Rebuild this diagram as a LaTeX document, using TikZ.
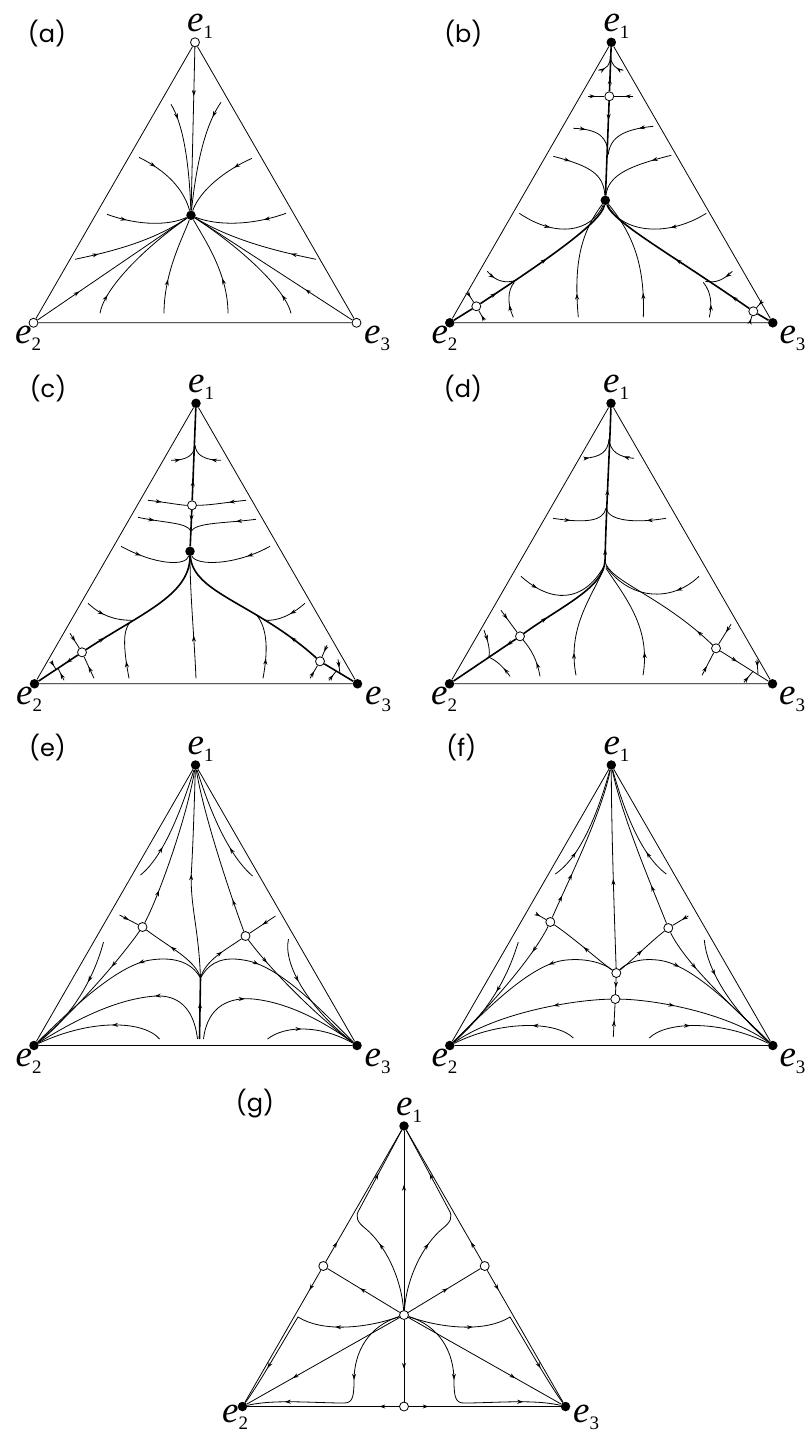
\documentclass[tikz,border=0pt]{standalone}
\usepackage{fontspec}
\usepackage{tikz}
\usetikzlibrary{arrows.meta,decorations.markings}
\newfontfamily\serifface{Liberation Serif}
\newfontfamily\sansface{Poppins}
\newcommand{\elfont}{\serifface\fontsize{37}{37}\selectfont}
\newcommand{\subfont}{\serifface\fontsize{19}{19}\selectfont}
\newcommand{\panelfont}{\sansface\fontsize{24}{24}\selectfont}

\begin{document}
\begin{tikzpicture}[x=1pt,y=-1pt,
    edge/.style={line width=0.8pt},
    orbit/.style={line width=0.8pt},
    heavy/.style={line width=1.6pt},
    fixed/.style={circle,inner sep=0pt,minimum size=9.5pt,fill=black},
    unstable/.style={circle,inner sep=0pt,minimum size=9pt,draw,line width=0.8pt,fill=white},
    arr/.style={postaction={decorate,decoration={markings,mark=at position #1 with {\arrow{Stealth[length=6pt,width=4pt]}}}}},
    elabel/.style={font=\elfont,inner sep=0pt,anchor=base west},
    panel/.style={font=\panelfont,inner sep=0pt}]
    \useasboundingbox (0,0) rectangle (806,1434);

    % (a)
    \begin{scope}[shift={(195,42.3)}]
    \node[unstable] (a1) at (0,0) {};
    \node[unstable] (a2) at (-161.5,280.5) {};
    \node[unstable] (a3) at (161.5,280.5) {};
    \node[fixed] (aS) at (-4,173) {};
    \draw[edge] (a1) -- (a2) -- (a3) -- (a1);
    \draw[orbit,arr=0.3] (a1) -- (aS);
    \draw[orbit,arr=0.28] (a2) -- (aS);
    \draw[orbit,arr=0.3] (a3) -- (aS);
    \draw[orbit,arr=0.15] (-24,62) .. controls (-13,80) and (-6,115) .. (aS);
    \draw[orbit,arr=0.15] (26,60) .. controls (12,80) and (2,115) .. (aS);
    \draw[orbit,arr=0.25] (-56,115) .. controls (-30,128) and (-12,145) .. (aS);
    \draw[orbit,arr=0.25] (57,116) .. controls (30,128) and (5,148) .. (aS);
    \draw[orbit,arr=0.25] (-88,172) .. controls (-55,184) and (-25,183) .. (aS);
    \draw[orbit,arr=0.25] (91,171) .. controls (55,184) and (20,183) .. (aS);
    \draw[orbit,arr=0.2] (-120,217) .. controls (-92,211) and (-45,201) .. (aS);
    \draw[orbit,arr=0.2] (121,217) .. controls (92,211) and (40,200) .. (aS);
    \draw[orbit,arr=0.15] (-95,271) .. controls (-91,246) and (-50,205) .. (aS);
    \draw[orbit,arr=0.15] (96,271) .. controls (90,246) and (45,205) .. (aS);
    \draw[orbit,arr=0.35] (-31,271) .. controls (-31,230) and (-12,195) .. (aS);
    \draw[orbit,arr=0.35] (33,271) .. controls (33,230) and (8,195) .. (aS);
    \node[elabel] (a1l) at (-8,-11) {\textit{e}\raisebox{-7pt}{\subfont 1}};
    \node[elabel] (a2l) at (-180,301.5) {\textit{e}\raisebox{-7pt}{\subfont 2}};
    \node[elabel] (a3l) at (169,301.5) {\textit{e}\raisebox{-7pt}{\subfont 3}};
    \node[panel] (al) at (-148,-9) {(a)};
    \end{scope}

    % (b)
    \begin{scope}[shift={(611.3,42.3)}]
    \node[fixed] (b1) at (0,0) {};
    \node[fixed] (b2) at (-161.5,280.5) {};
    \node[fixed] (b3) at (161.5,280.5) {};
    \node[unstable] (bT) at (-2,54) {};
    \node[fixed] (bS) at (-6,158) {};
    \node[unstable] (bL) at (-135,264) {};
    \node[unstable] (bR) at (142,269) {};
    \draw[edge] (b1) -- (b2) -- (b3) -- (b1);
    \draw[heavy,arr=0.3] (bT) -- (b1);
    \draw[orbit,arr=0.35] (-13,28) .. controls (-4,27) and (-1,22) .. (-1,14);
    \draw[orbit,arr=0.35] (12,28) .. controls (4,27) and (0,22) .. (-1,14);
    \draw[orbit,arr=0.45] (-23,54) -- (bT);
    \draw[orbit,arr=0.45] (22,54) -- (bT);
    \draw[heavy,arr=0.2] (bT) -- (bS);
    \draw[orbit,arr=0.25] (-38,86) .. controls (-12,87) and (-4,95) .. (-3,112);
    \draw[orbit,arr=0.25] (42,84) .. controls (12,87) and (-1,95) .. (-3,112);
    \draw[orbit,arr=0.25] (-58,114) .. controls (-20,124) and (-8,132) .. (bS);
    \draw[orbit,arr=0.25] (60,113) .. controls (20,123) and (-3,132) .. (bS);
    \draw[orbit,arr=0.35] (-92,171) .. controls (-55,196) and (-20,190) .. (bS);
    \draw[orbit,arr=0.35] (95,171) .. controls (55,196) and (10,190) .. (bS);
    \draw[heavy,arr=0.12,arr=0.5] (bL) .. controls (-65,218) and (-10,180) .. (bS);
    \draw[heavy] (bL) -- (b2);
    \draw[orbit,arr=0.5] (-144,250) -- (bL);
    \draw[orbit,arr=0.5] (-127,278) -- (bL);
    \draw[orbit,arr=0.3] (-124,229) .. controls (-115,240) and (-105,241) .. (-95,238);
    \draw[orbit,arr=0.35] (-98,275) .. controls (-104,262) and (-104,248) .. (-97,240);
    \draw[orbit,arr=0.2] (-33,275) .. controls (-38,220) and (-30,190) .. (bS);
    \draw[orbit,arr=0.2] (32,275) .. controls (34,220) and (20,190) .. (bS);
    \draw[heavy,arr=0.12,arr=0.5] (bR) .. controls (60,212) and (2,180) .. (bS);
    \draw[heavy] (bR) -- (b3);
    \draw[orbit,arr=0.5] (150,260) -- (bR);
    \draw[orbit,arr=0.5] (139,279) -- (bR);
    \draw[orbit,arr=0.3] (121,229) .. controls (112,238) and (104,241) .. (94,239);
    \draw[orbit,arr=0.35] (98,275) .. controls (101,262) and (100,250) .. (92,240);
    \node[elabel] (b1l) at (-8,-11) {\textit{e}\raisebox{-7pt}{\subfont 1}};
    \node[elabel] (b2l) at (-180,301.5) {\textit{e}\raisebox{-7pt}{\subfont 2}};
    \node[elabel] (b3l) at (168,301.5) {\textit{e}\raisebox{-7pt}{\subfont 3}};
    \node[panel] (bl) at (-148,-9) {(b)};
    \end{scope}

    % (c)
    \begin{scope}[shift={(196,403.3)}]
    \node[fixed] (c1) at (0,0) {};
    \node[fixed] (c2) at (-161.5,280.5) {};
    \node[fixed] (c3) at (161.5,280.5) {};
    \node[unstable] (cT) at (-4,102) {};
    \node[fixed] (cS) at (-6,148) {};
    \node[unstable] (cL) at (-114,249) {};
    \node[unstable] (cR) at (124,258) {};
    \draw[edge] (c1) -- (c2) -- (c3) -- (c1);
    \draw[heavy,arr=0.22] (cT) -- (c1);
    \draw[orbit,arr=0.3] (-25,57) .. controls (-9,57) and (-2,52) .. (-1,42);
    \draw[orbit,arr=0.3] (25,57) .. controls (9,57) and (0,52) .. (-1,42);
    \draw[orbit,arr=0.35] (-48,97) .. controls (-30,99) and (-15,102) .. (cT);
    \draw[orbit,arr=0.35] (50,97) .. controls (30,99) and (15,102) .. (cT);
    \draw[heavy,arr=0.3] (cT) -- (cS);
    \draw[orbit,arr=0.3] (-58,114) .. controls (-30,120) and (-9,119) .. (-5,128);
    \draw[orbit,arr=0.3] (60,116) .. controls (30,120) and (0,119) .. (-5,128);
    \draw[orbit,arr=0.3] (-75,143) .. controls (-40,162) and (-10,163) .. (cS);
    \draw[orbit,arr=0.3] (74,143) .. controls (40,162) and (0,163) .. (cS);
    \draw[heavy,arr=0.15] (cL) .. controls (-55,210) and (-6,192) .. (cS);
    \draw[heavy,arr=0.2] (cR) .. controls (60,200) and (-3,190) .. (cS);
    \draw[heavy,arr=0.3] (cL) -- (c2);
    \draw[heavy] (cR) -- (c3);
    \draw[orbit,arr=0.4] (-108,200) .. controls (-95,212) and (-82,217) .. (-64,217);
    \draw[orbit,arr=0.4] (109,200) .. controls (95,212) and (82,218) .. (68,217);
    \draw[orbit,arr=0.3] (-67,275) .. controls (-72,248) and (-74,228) .. (-66,219);
    \draw[orbit,arr=0.3] (67,275) .. controls (72,248) and (72,225) .. (60,211);
    \draw[orbit,arr=0.35] (0,275) .. controls (-2,230) and (-6,190) .. (cS);
    \draw[orbit,arr=0.55] (-126,230) -- (cL);
    \draw[orbit,arr=0.55] (-102,275) -- (cL);
    \draw[orbit,arr=0.6] (-145,258) -- (-140,266);
    \draw[orbit,arr=0.6] (-132,277) -- (-138,265);
    \draw[orbit,arr=0.55] (131,242) -- (cR);
    \draw[orbit,arr=0.55] (114,275) -- (cR);
    \draw[orbit,arr=0.6] (142,256) -- (144,270);
    \draw[orbit,arr=0.6] (133,277) -- (140,268);
    \node[elabel] (c1l) at (-8,-11) {\textit{e}\raisebox{-7pt}{\subfont 1}};
    \node[elabel] (c2l) at (-180,301.5) {\textit{e}\raisebox{-7pt}{\subfont 2}};
    \node[elabel] (c3l) at (169,301.5) {\textit{e}\raisebox{-7pt}{\subfont 3}};
    \node[panel] (cl) at (-148,-15) {(c)};
    \end{scope}

    % (d)
    \begin{scope}[shift={(611,403.3)}]
    \node[fixed] (d1) at (0,0) {};
    \node[fixed] (d2) at (-161.5,280.5) {};
    \node[fixed] (d3) at (161.5,280.5) {};
    \node[unstable] (dL) at (-91,233) {};
    \node[unstable] (dR) at (105,245) {};
    \coordinate (dB) at (-6,158);
    \draw[edge] (d1) -- (d2) -- (d3) -- (d1);
    \draw[heavy,arr=0.08,arr=0.47] (dB) .. controls (-5,110) and (-1,40) .. (d1);
    \draw[heavy,arr=0.25] (dL) .. controls (-50,203) and (-8,185) .. (dB);
    \draw[heavy,arr=0.15] (dL) -- (d2);
    \draw[orbit,arr=0.15] (dR) .. controls (50,192) and (-2,178) .. (dB);
    \draw[orbit,arr=0.35] (dR) -- (d3);
    \draw[orbit,arr=0.15] (-27,55) .. controls (-10,54) and (-3,48) .. (-2,36);
    \draw[orbit,arr=0.3] (23,55) .. controls (8,54) and (-1,48) .. (-2,36);
    \draw[orbit,arr=0.3] (-58,115) .. controls (-25,120) and (-8,118) .. (-5,105);
    \draw[orbit,arr=0.3] (55,115) .. controls (25,120) and (-2,118) .. (-5,105);
    \draw[orbit,arr=0.2] (-90,173) .. controls (-60,200) and (-28,200) .. (-7,163);
    \draw[orbit,arr=0.25] (88,173) .. controls (60,200) and (18,196) .. (-5,163);
    \draw[orbit,arr=0.2] (-35,272) .. controls (-44,225) and (-20,195) .. (-7,165);
    \draw[orbit,arr=0.2] (32,272) .. controls (40,225) and (15,195) .. (-5,165);
    \draw[orbit,arr=0.4] (-110,207) -- (dL);
    \draw[orbit,arr=0.35] (-71,273) .. controls (-74,256) and (-80,246) .. (dL);
    \draw[orbit,arr=0.4] (-127,227) .. controls (-122,240) and (-121,248) .. (-122,254);
    \draw[orbit,arr=0.35] (-101,273) .. controls (-108,263) and (-115,257) .. (-122,254);
    \draw[orbit,arr=0.4] (120,221) -- (dR);
    \draw[orbit,arr=0.4] (91,272) -- (dR);
    \draw[orbit,arr=0.5] (146,256) -- (147,271);
    \draw[orbit,arr=0.5] (133,279) -- (142,268);
    \node[elabel] (d1l) at (-8,-11) {\textit{e}\raisebox{-7pt}{\subfont 1}};
    \node[elabel] (d2l) at (-180,301.5) {\textit{e}\raisebox{-7pt}{\subfont 2}};
    \node[elabel] (d3l) at (168,301.5) {\textit{e}\raisebox{-7pt}{\subfont 3}};
    \node[panel] (dl) at (-148,-15) {(d)};
    \end{scope}

    % (e)
    \begin{scope}[shift={(195.5,765)}]
    \node[fixed] (e1) at (0,0) {};
    \node[fixed] (e2) at (-161.5,280.5) {};
    \node[fixed] (e3) at (161.5,280.5) {};
    \node[unstable] (eL) at (-53,162) {};
    \node[unstable] (eR) at (50,171) {};
    \coordinate (eC) at (5,213);
    \draw[edge] (e1) -- (e2) -- (e3) -- (e1);
    \draw[heavy,arr=0.6] (4,274) -- (eC);
    \draw[orbit,arr=0.5] (eC) .. controls (3,160) and (-6,140) .. (-4,105) .. controls (-2,70) and (-1,30) .. (e1);
    \draw[orbit,arr=0.6] (eC) .. controls (0,195) and (-25,183) .. (eL);
    \draw[orbit,arr=0.6] (eC) .. controls (10,195) and (30,185) .. (eR);
    \draw[orbit,arr=0.22] (eL) .. controls (-36,130) and (-8,50) .. (e1);
    \draw[orbit,arr=0.3] (eL) .. controls (-80,200) and (-125,250) .. (e2);
    \draw[orbit,arr=0.5] (-76,150) -- (eL);
    \draw[orbit,arr=0.2] (eR) .. controls (35,130) and (8,50) .. (e1);
    \draw[orbit,arr=0.2] (eR) .. controls (75,205) and (125,255) .. (e3);
    \draw[orbit,arr=0.5] (80,151) -- (eR);
    \draw[orbit,arr=0.35] (eC) .. controls (-5,195) and (-25,192) .. (-45,195) .. controls (-80,200) and (-130,250) .. (e2);
    \draw[orbit,arr=0.35] (eC) .. controls (15,195) and (30,192) .. (48,195) .. controls (85,200) and (130,250) .. (e3);
    \draw[orbit,arr=0.35] (2,274) .. controls (-2,240) and (-20,230) .. (-40,231) .. controls (-80,234) and (-120,255) .. (e2);
    \draw[orbit,arr=0.35] (8,274) .. controls (12,240) and (35,232) .. (58,234) .. controls (95,238) and (130,258) .. (e3);
    \draw[orbit,arr=0.4] (-36,274) .. controls (-50,257) and (-100,252) .. (e2);
    \draw[orbit,arr=0.4] (72,274) .. controls (90,260) and (125,260) .. (e3);
    \draw[orbit,arr=0.3] (-55,110) .. controls (-40,98) and (-22,70) .. (e1);
    \draw[orbit,arr=0.3] (57,111) .. controls (42,98) and (22,70) .. (e1);
    \draw[orbit,arr=0.35] (-92,177) .. controls (-98,200) and (-115,245) .. (e2);
    \draw[orbit,arr=0.35] (93,174) .. controls (87,200) and (115,245) .. (e3);
    \node[elabel] (e1l) at (-8,-11) {\textit{e}\raisebox{-7pt}{\subfont 1}};
    \node[elabel] (e2l) at (-180,301.5) {\textit{e}\raisebox{-7pt}{\subfont 2}};
    \node[elabel] (e3l) at (169,301.5) {\textit{e}\raisebox{-7pt}{\subfont 3}};
    \node[panel] (el) at (-148,-17) {(e)};
    \end{scope}

    % (f)
    \begin{scope}[shift={(611.3,765)}]
    \node[fixed] (f1) at (0,0) {};
    \node[fixed] (f2) at (-161.5,280.5) {};
    \node[fixed] (f3) at (161.5,280.5) {};
    \node[unstable] (fL) at (-61,157) {};
    \node[unstable] (fR) at (57,163) {};
    \node[unstable] (fC) at (5,208) {};
    \node[unstable] (fD) at (4,234) {};
    \draw[edge] (f1) -- (f2) -- (f3) -- (f1);
    \draw[orbit,arr=0.45] (fC) .. controls (3,150) and (0,60) .. (f1);
    \draw[orbit,arr=0.6] (fC) -- (fD);
    \draw[orbit,arr=0.5] (2,272) -- (fD);
    \draw[orbit,arr=0.5] (fC) .. controls (-12,196) and (-35,175) .. (fL);
    \draw[orbit,arr=0.5] (fC) .. controls (20,196) and (38,178) .. (fR);
    \draw[orbit,arr=0.35] (fC) .. controls (-8,198) and (-25,193) .. (-45,195) .. controls (-80,198) and (-125,245) .. (f2);
    \draw[orbit,arr=0.35] (fC) .. controls (15,198) and (28,193) .. (46,195) .. controls (80,198) and (125,245) .. (f3);
    \draw[orbit,arr=0.35] (fD) .. controls (-40,235) and (-115,248) .. (f2);
    \draw[orbit,arr=0.35] (fD) .. controls (50,235) and (120,250) .. (f3);
    \draw[orbit,arr=0.35] (-38,273) .. controls (-55,256) and (-110,255) .. (f2);
    \draw[orbit,arr=0.35] (38,273) .. controls (55,256) and (110,255) .. (f3);
    \draw[orbit,arr=0.15,arr=0.3] (fL) .. controls (-45,120) and (-10,50) .. (f1);
    \draw[orbit,arr=0.2] (fL) .. controls (-80,195) and (-125,245) .. (f2);
    \draw[orbit,arr=0.4] (-75,149) -- (fL);
    \draw[orbit,arr=0.25] (fR) .. controls (42,125) and (10,50) .. (f1);
    \draw[orbit,arr=0.3] (fR) .. controls (75,200) and (125,245) .. (f3);
    \draw[orbit,arr=0.4] (77,151) -- (fR);
    \draw[orbit,arr=0.25] (-56,109) .. controls (-40,98) and (-20,72) .. (f1);
    \draw[orbit,arr=0.25] (55,109) .. controls (40,98) and (20,72) .. (f1);
    \draw[orbit,arr=0.45] (-93,177) .. controls (-100,200) and (-115,240) .. (f2);
    \draw[orbit,arr=0.3] (93,175) .. controls (95,200) and (115,240) .. (f3);
    \node[elabel] (f1l) at (-8,-11) {\textit{e}\raisebox{-7pt}{\subfont 1}};
    \node[elabel] (f2l) at (-180,301.5) {\textit{e}\raisebox{-7pt}{\subfont 2}};
    \node[elabel] (f3l) at (168,301.5) {\textit{e}\raisebox{-7pt}{\subfont 3}};
    \node[panel] (fl) at (-150,-17) {(f)};
    \end{scope}

    % (g)
    \begin{scope}[shift={(404,1126)}]
    \node[fixed] (g1) at (0,0) {};
    \node[fixed] (g2) at (-161.5,280.5) {};
    \node[fixed] (g3) at (161.5,280.5) {};
    \node[unstable] (gP) at (-80.7,140) {};
    \node[unstable] (gQ) at (80.7,140) {};
    \node[unstable] (gC) at (0,189) {};
    \node[unstable] (gB) at (0,280.5) {};
    \draw[edge,arr=0.15] (gP) -- (g1);
    \draw[edge,arr=0.15] (gP) -- (g2);
    \draw[edge,arr=0.15] (gQ) -- (g1);
    \draw[edge,arr=0.15] (gQ) -- (g3);
    \draw[edge,arr=0.13] (gB) -- (g2);
    \draw[edge,arr=0.13] (gB) -- (g3);
    \draw[orbit,arr=0.7] (gC) -- (g1);
    \draw[orbit,arr=0.6] (gC) -- (gB);
    \draw[orbit,arr=0.55] (gC) -- (gP);
    \draw[orbit,arr=0.55] (gC) -- (gQ);
    \draw[orbit,arr=0.7] (gC) -- (g2);
    \draw[orbit,arr=0.7] (gC) -- (g3);
    \draw[orbit,arr=0.4,arr=0.82] (gC) .. controls (-35,200) and (-50,225) .. (-50,255) .. controls (-50,272) and (-52,277) .. (-60,277) .. controls (-90,277) and (-130,273) .. (g2);
    \draw[orbit,arr=0.4,arr=0.82] (gC) .. controls (35,200) and (50,225) .. (50,255) .. controls (50,272) and (52,277) .. (60,277) .. controls (90,277) and (130,273) .. (g3);
    \draw[orbit,arr=0.32,arr=0.8] (gC) .. controls (-40,203) and (-82,206) .. (-106,191) .. controls (-119,212) and (-145,258) .. (g2);
    \draw[orbit,arr=0.32,arr=0.8] (gC) .. controls (40,203) and (82,206) .. (106,191) .. controls (119,212) and (145,258) .. (g3);
    \draw[orbit,arr=0.35,arr=0.76] (gC) .. controls (-3,150) and (-20,118) .. (-38,103) .. controls (-47,96) and (-49,91) .. (-45,84) -- (g1);
    \draw[orbit,arr=0.35,arr=0.76] (gC) .. controls (3,150) and (20,118) .. (38,103) .. controls (47,96) and (49,91) .. (45,84) -- (g1);
    \node[elabel] (g1l) at (-8,-11) {\textit{e}\raisebox{-7pt}{\subfont 1}};
    \node[elabel] (g2l) at (-182,296) {\textit{e}\raisebox{-7pt}{\subfont 2}};
    \node[elabel] (g3l) at (169,296) {\textit{e}\raisebox{-7pt}{\subfont 3}};
    \node[panel] (gl) at (-149,-22) {(g)};
    \end{scope}
\end{tikzpicture}
\end{document}
